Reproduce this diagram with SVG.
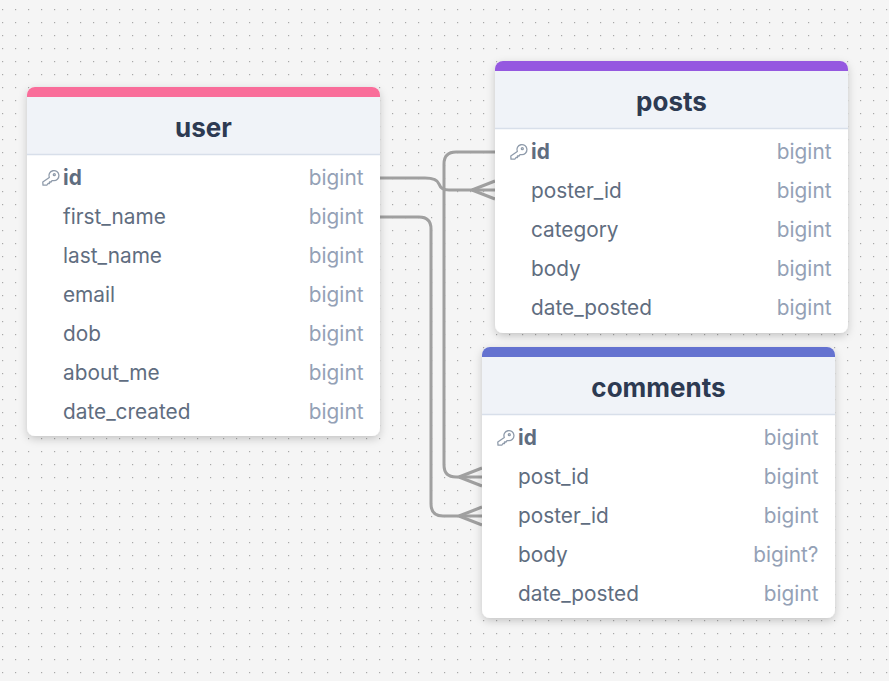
<svg xmlns="http://www.w3.org/2000/svg" width="889" height="681" viewBox="0 0 889 681">
<style>
text{font-family:"Inter","Liberation Sans",sans-serif;font-size:20.8px}
.t{font-size:26px;font-weight:700;fill:#2d3a52;text-anchor:middle}
.n{fill:#5f6d80}
.p{font-weight:700}
.y{fill:#94a1b6;text-anchor:end}
.head{fill:#f0f3f8}
.body{fill:#fff;filter:url(#s)}
.rule{stroke:#d8dfea;stroke-width:1.5}
.c{fill:none;stroke:#a0a0a0;stroke-width:3}
.k{fill:none;stroke:#8f9bab;stroke-width:1.3;stroke-linejoin:round}
</style>
<defs>
<pattern id="dots" x="2" y="9" width="13" height="13" patternUnits="userSpaceOnUse"><rect width="1.2" height="1.2" fill="#a8a8a8"/></pattern>
<filter id="s" x="-10%" y="-10%" width="120%" height="120%"><feDropShadow dx="0" dy="3" stdDeviation="4" flood-color="#000" flood-opacity=".2"/></filter>
<g id="key"><path class="k" d="M-0.700,-0.500 A5,5 0 1 1 3.500,2.600 L2,2.700 L1,4 L-0.500,4 L-0.500,5.500 L-2,5.500 L-3,7 L-7,7.200 L-7.200,4 Z"/><circle cx="4.300" cy="-3.300" r="1" class="k"/></g>
</defs>
<rect width="889" height="681" fill="#f5f5f5"/>
<rect width="889" height="681" fill="url(#dots)"/>
<g id="connectors">
<path class="c" d="M380,178H425Q437,178 439,184Q441,190 449,190H495"/>
<path class="c" d="M380,217H419Q431,217 431,229V504Q431,516 443,516H482"/>
<path class="c" d="M495,152H456Q444,152 444,164V465Q444,477 456,477H482"/>
<path class="c" d="M472,190L495,181M472,190L495,199"/>
<path class="c" d="M459,477L482,468M459,477L482,486"/>
<path class="c" d="M459,516L482,507M459,516L482,525"/>
</g>
<g id="user">
<rect class="body" x="27" y="87" width="353" height="349" rx="8"/>
<rect x="27" y="87" width="353" height="30" rx="8" fill="#f96d9a"/>
<rect class="head" x="27" y="97" width="353" height="57"/>
<line class="rule" x1="27" x2="380" y1="154.500" y2="154.500"/>
<text class="t" x="203.500" y="137">user</text>
<use href="#key" x="50" y="178"/>
<text class="n p" x="63" y="185">id</text><text class="y" x="363.500" y="185">bigint</text>
<text class="n" x="63" y="224">first_name</text><text class="y" x="363.500" y="224">bigint</text>
<text class="n" x="63" y="263">last_name</text><text class="y" x="363.500" y="263">bigint</text>
<text class="n" x="63" y="302">email</text><text class="y" x="363.500" y="302">bigint</text>
<text class="n" x="63" y="341">dob</text><text class="y" x="363.500" y="341">bigint</text>
<text class="n" x="63" y="380">about_me</text><text class="y" x="363.500" y="380">bigint</text>
<text class="n" x="63" y="419">date_created</text><text class="y" x="363.500" y="419">bigint</text>
</g>
<g id="posts">
<rect class="body" x="495" y="61" width="353" height="272" rx="8"/>
<rect x="495" y="61" width="353" height="30" rx="8" fill="#9558e0"/>
<rect class="head" x="495" y="71" width="353" height="57"/>
<line class="rule" x1="495" x2="848" y1="128.500" y2="128.500"/>
<text class="t" x="671.500" y="111">posts</text>
<use href="#key" x="518" y="152"/>
<text class="n p" x="531" y="159">id</text><text class="y" x="831.500" y="159">bigint</text>
<text class="n" x="531" y="198">poster_id</text><text class="y" x="831.500" y="198">bigint</text>
<text class="n" x="531" y="237">category</text><text class="y" x="831.500" y="237">bigint</text>
<text class="n" x="531" y="276">body</text><text class="y" x="831.500" y="276">bigint</text>
<text class="n" x="531" y="315">date_posted</text><text class="y" x="831.500" y="315">bigint</text>
</g>
<g id="comments">
<rect class="body" x="482" y="347" width="353" height="271" rx="8"/>
<rect x="482" y="347" width="353" height="30" rx="8" fill="#6472d0"/>
<rect class="head" x="482" y="357" width="353" height="57"/>
<line class="rule" x1="482" x2="835" y1="414.500" y2="414.500"/>
<text class="t" x="658.500" y="397">comments</text>
<use href="#key" x="505" y="438"/>
<text class="n p" x="518" y="445">id</text><text class="y" x="818.500" y="445">bigint</text>
<text class="n" x="518" y="484">post_id</text><text class="y" x="818.500" y="484">bigint</text>
<text class="n" x="518" y="523">poster_id</text><text class="y" x="818.500" y="523">bigint</text>
<text class="n" x="518" y="562">body</text><text class="y" x="818.500" y="562">bigint?</text>
<text class="n" x="518" y="601">date_posted</text><text class="y" x="818.500" y="601">bigint</text>
</g>
</svg>
